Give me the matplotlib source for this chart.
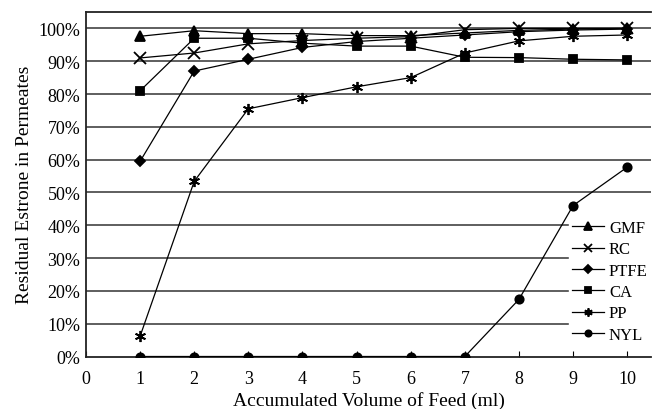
import numpy as np
import matplotlib.pyplot as plt
from matplotlib.ticker import PercentFormatter

plt.rcParams["font.family"] = ["Liberation Serif", "DejaVu Serif"]

# データ
volume = [1, 2, 3, 4, 5, 6, 7, 8, 9, 10]
gmf = [97.6, 99.3, 98.4, 98.4, 97.8, 97.8, 98.6, 99.4, 99.8, 100.0]
rc = [91.0, 92.5, 95.3, 96.3, 97.0, 97.5, 99.6, 100.0, 100.0, 100.0]
ptfe = [59.5, 87.0, 90.6, 94.2, 96.0, 97.0, 98.0, 99.0, 99.5, 99.8]
ca = [81.0, 97.0, 97.0, 95.5, 94.6, 94.6, 91.2, 91.1, 90.6, 90.4]
pp = [6.2, 53.4, 75.5, 78.9, 82.2, 85.0, 92.5, 96.2, 97.6, 98.0]
nyl = [0, 0, 0, 0, 0, 0, 0, 17.4, 46.0, 57.7]

labels = ["GMF", "RC", "PTFE", "CA", "PP", "NYL"]
series = [gmf, rc, ptfe, ca, pp, nyl]
markers = ["^", "x", "D", "s", (6, 2, 0), "o"]
sizes = [7, 8, 5, 6, 8, 6]

fig = plt.figure(figsize=(6.52, 4.10), dpi=100)
ax = fig.add_axes([86 / 652, 1 - 357.5 / 410, (651 - 86) / 652, (357.5 - 13) / 410])

for lab, ys, m, s in zip(labels, series, markers, sizes):
    ax.plot(volume, ys, color="black", lw=0.9, marker=m, markersize=s,
            markeredgewidth=1.3, label=lab, zorder=3)

ax.set_xlim(0, 10.44)
ax.set_ylim(0, 105)
ax.set_xticks(range(0, 11))
ax.set_yticks(range(0, 101, 10))
ax.yaxis.set_major_formatter(PercentFormatter(decimals=0))
for y in range(10, 101, 10):
    ax.axhline(y, color="#333333", lw=1.1, zorder=1)

ax.spines["right"].set_visible(False)
for sp in ["left", "bottom", "top"]:
    ax.spines[sp].set_linewidth(1.3)
    ax.spines[sp].set_color("#222222")
ax.tick_params(axis="x", direction="in", length=4, labelsize=13, pad=10)
ax.tick_params(axis="y", length=0, labelsize=13, pad=4)

ax.set_xlabel("Accumulated Volume of Feed (ml)", fontsize=14, labelpad=3)
ax.set_ylabel("Residual Estrone in Permeates", fontsize=14, labelpad=4)

leg = ax.legend(loc="center right", bbox_to_anchor=(1.0, 0.218), fontsize=12,
                frameon=True, framealpha=1, edgecolor="white", fancybox=False,
                handlelength=1.9, handletextpad=0.3, labelspacing=0.32,
                borderaxespad=0.0, borderpad=0.2, markerscale=0.75)
leg.set_zorder(5)

fig.savefig("out.png", dpi=100)
